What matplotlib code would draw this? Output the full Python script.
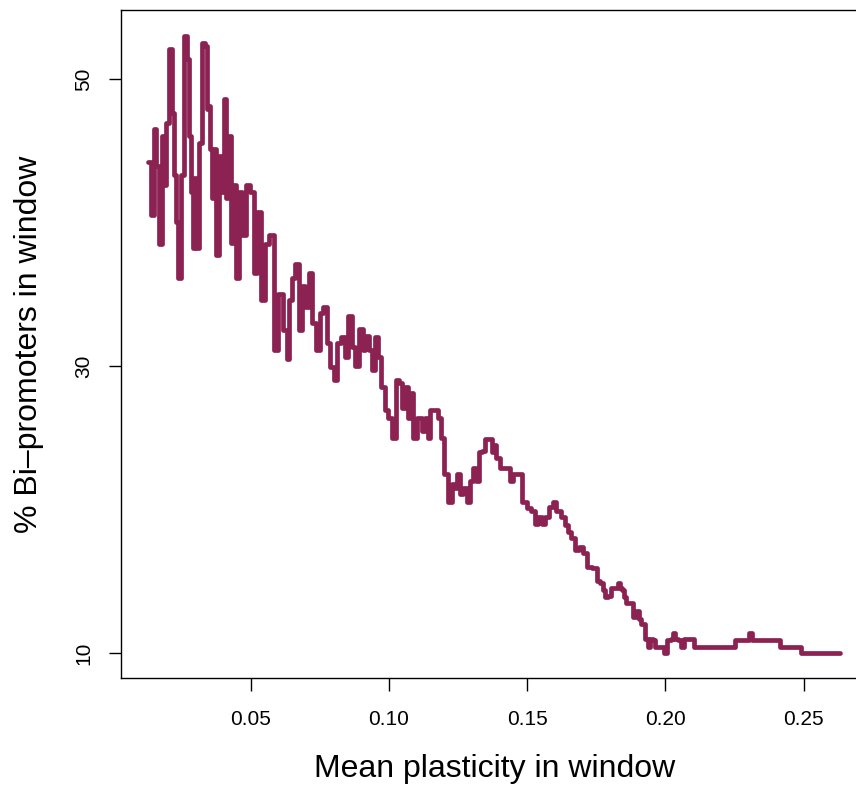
import matplotlib
matplotlib.use("Agg")
from matplotlib import pyplot as plt

# mean plasticity per window (x) and % bi-promoters in window (y)
plasticity = [
    0.0130, 0.0146, 0.0154, 0.0162, 0.0175, 0.0182, 0.0190, 0.0196, 0.0211, 0.0220,
    0.0226, 0.0232, 0.0244, 0.0251, 0.0265, 0.0274, 0.0281, 0.0287, 0.0292, 0.0299,
    0.0307, 0.0320, 0.0329, 0.0341, 0.0345, 0.0353, 0.0356, 0.0365, 0.0373, 0.0379,
    0.0389, 0.0397, 0.0407, 0.0415, 0.0423, 0.0431, 0.0441, 0.0453, 0.0461, 0.0473,
    0.0491, 0.0506, 0.0518, 0.0530,
    0.0543, 0.0558, 0.0576, 0.0591, 0.0606, 0.0624, 0.0636, 0.0642, 0.0654, 0.0668,
    0.0684, 0.0690, 0.0702, 0.0718, 0.0729, 0.0744, 0.0757, 0.0769, 0.0781, 0.0793,
    0.0808, 0.0817, 0.0835, 0.0845, 0.0859, 0.0871, 0.0883, 0.0899, 0.0910, 0.0919,
    0.0937, 0.0943, 0.0956, 0.0967, 0.0979, 0.0992, 0.1004, 0.1018, 0.1034, 0.1040,
    0.1052, 0.1064, 0.1076, 0.1082, 0.1094, 0.1112, 0.1124, 0.1134, 0.1146, 0.1154,
    0.1172, 0.1184, 0.1194, 0.1206, 0.1221, 0.1232, 0.1242, 0.1251, 0.1263, 0.1275,
    0.1287, 0.1299, 0.1311, 0.1319, 0.1329, 0.1341, 0.1353, 0.1365, 0.1377, 0.1383,
    0.1395, 0.1407, 0.1431, 0.1444, 0.1456, 0.1474, 0.1492, 0.1504, 0.1522, 0.1534,
    0.1546, 0.1558, 0.1570, 0.1588, 0.1600, 0.1612, 0.1630, 0.1642, 0.1654, 0.1666,
    0.1679, 0.1697, 0.1709, 0.1721, 0.1745, 0.1757, 0.1769, 0.1777, 0.1787, 0.1799,
    0.1805, 0.1823, 0.1832, 0.1838, 0.1847, 0.1853, 0.1865, 0.1877, 0.1889, 0.1901,
    0.1907, 0.1919, 0.1932, 0.1940, 0.1950, 0.1958, 0.1968, 0.1986, 0.2001, 0.2013,
    0.2026, 0.2031, 0.2040, 0.2052, 0.2062, 0.2074, 0.2100, 0.2110, 0.2245, 0.2257,
    0.2299, 0.2308, 0.2317, 0.2407, 0.2423, 0.2480, 0.2500, 0.2630,
]
bipromoters = [
    44.2, 40.5, 46.5, 43.9, 38.5, 46.0, 42.6, 46.9, 52.1, 47.6,
    43.3, 40.0, 36.1, 43.3, 53.0, 51.4, 46.0, 42.1, 38.2, 43.1,
    38.2, 45.5, 52.5, 52.3, 47.9, 48.1, 45.1, 41.7, 45.1, 37.7,
    44.6, 42.1, 48.6, 41.7, 46.0, 38.6, 42.6, 36.1, 42.1, 39.1,
    42.6, 42.1, 36.5, 40.7,
    34.6, 38.5, 39.1, 31.1, 35.0, 32.5, 30.5, 34.6, 36.1, 37.1,
    32.5, 35.6, 34.1, 36.5, 33.0, 31.1, 33.7, 34.1, 31.6, 29.9,
    29.0, 31.6, 32.0, 30.6, 33.5, 31.3, 30.0, 32.6, 31.1, 32.1,
    31.1, 29.7, 32.0, 30.6, 28.5, 26.9, 26.4, 25.0, 29.0, 28.8,
    27.1, 28.5, 26.4, 28.1, 25.0, 26.4, 25.5, 26.4, 25.0, 26.9,
    26.9, 26.4, 25.0, 22.5, 20.5, 21.8, 21.5, 22.5, 21.1, 21.5,
    20.5, 22.0, 22.9, 22.0, 24.0, 24.1, 24.9, 24.9, 24.0, 24.5,
    23.6, 22.9, 22.9, 22.0, 22.5, 22.5, 20.5, 20.1, 19.9, 19.0,
    19.5, 19.0, 19.5, 20.2, 20.5, 19.9, 19.5, 18.9, 18.4, 18.0,
    17.2, 17.4, 17.0, 16.0, 15.9, 15.0, 14.9, 14.4, 13.9, 14.0,
    14.5, 14.5, 14.9, 14.5, 14.4, 13.9, 13.5, 13.5, 12.5, 12.9,
    12.4, 12.0, 11.0, 10.4, 11.0, 10.9, 10.4, 10.4, 10.0, 10.9,
    11.0, 11.4, 11.0, 10.9, 10.4, 11.0, 11.0, 10.4, 10.4, 10.9,
    10.9, 11.4, 10.9, 10.9, 10.4, 10.4, 10.0, 10.0,
]
xticks = [0.05, 0.10, 0.15, 0.20, 0.25]
yticks = [10, 30, 50]

plt.rcParams['font.family'] = ['Liberation Sans', 'DejaVu Sans']

fig = plt.figure(figsize=(8.56, 7.87), dpi=100)
# right edge of the box falls outside the picture, like the original crop
ax = fig.add_axes([0.1414, 0.1385, 0.874, 0.8488])
ax.plot(plasticity, bipromoters, color='#8b2252', lw=3.4, drawstyle='steps-mid',
        solid_joinstyle='round', solid_capstyle='round')

ax.set_xlim(0.0031, 0.2737)
ax.set_ylim(8.26, 54.8)
ax.set_xticks(xticks)
ax.set_xticklabels(["%.2f" % t for t in xticks])
ax.set_yticks(yticks)
ax.set_yticklabels([str(t) for t in yticks], rotation=90, va='center')
ax.tick_params(axis='both', direction='out', length=9, width=1, labelsize=15,
               colors='black')
ax.tick_params(axis='x', pad=14)
ax.tick_params(axis='y', pad=11)
for s in ax.spines.values():
    s.set_linewidth(1)

ax.set_xlabel("Mean plasticity in window", fontsize=23, labelpad=18)
ax.set_ylabel("% Bi\u2013promoters in window", fontsize=23, labelpad=22)

fig.savefig("out.png", dpi=100)
